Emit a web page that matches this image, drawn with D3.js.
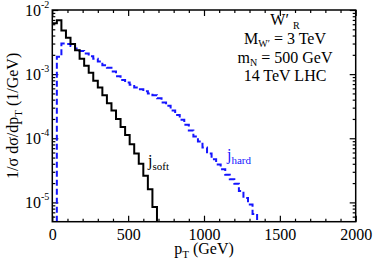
<!DOCTYPE html>
<html>
<head>
<meta charset="utf-8">
<script src="https://cdn.jsdelivr.net/npm/d3@7"></script>
<style>
  body { margin: 0; background: #fff; }
  svg { display: block; font-family: "Liberation Serif", "Times New Roman", serif; }
</style>
</head>
<body>
<div id="chart"></div>
<script>
// histogram bins, 30 GeV wide
const binWidth = 30
// j_soft, bins starting at 0 GeV
const softStart = 0
const softValues = [6.2e-3, 6.9e-3, 4.8e-3, 3.7e-3, 2.95e-3, 2.35e-3, 1.74e-3, 1.35e-3,
  1.05e-3, 7.9e-4, 6.2e-4, 4.7e-4, 3.5e-4, 2.7e-4, 2.0e-4, 1.5e-4, 1.12e-4, 8.1e-5,
  5.8e-5, 4.0e-5, 2.6e-5, 1.6e-5, 8.5e-6]
// j_hard, bins starting at 30 GeV
const hardStart = 30
const hardValues = [1.86e-3, 3.0e-3, 2.95e-3, 2.75e-3, 2.5e-3, 2.3e-3, 2.1e-3, 1.9e-3,
  1.74e-3, 1.58e-3, 1.38e-3, 1.26e-3, 1.1e-3, 9.3e-4, 8.1e-4, 7.4e-4, 6.8e-4, 6.2e-4,
  5.8e-4, 5.4e-4, 5.0e-4, 4.7e-4, 4.2e-4, 3.6e-4, 3.2e-4, 2.7e-4, 2.3e-4, 1.95e-4,
  1.62e-4, 1.32e-4, 1.07e-4, 8.9e-5, 7.2e-5, 5.8e-5, 4.7e-5, 3.9e-5, 3.3e-5, 2.7e-5,
  2.3e-5, 1.95e-5, 1.5e-5, 1.17e-5, 9.3e-6, 6.6e-6]

const xMajor = [0, 500, 1000, 1500, 2000]
const yMajor = [1e-5, 1e-4, 1e-3, 1e-2]
const yExponents = ["-5", "-4", "-3", "-2"]

const width = 374, height = 260
const margin = { top: 10, right: 18.3, bottom: 38.3, left: 52.3 }
const serif = '"Liberation Serif", "Times New Roman", serif'

const svg = d3.select("#chart").append("svg")
  .attr("width", width)
  .attr("height", height)

const x = d3.scaleLinear().domain([0, 2000]).range([margin.left, width - margin.right])
const y = d3.scaleLog().domain([5e-6, 1e-2]).range([height - margin.bottom, margin.top])
const yMin = y.domain()[0]

// minor ticks
const xMinor = d3.range(0, 2001, 100).filter(v => v % 500 !== 0)
const yMinor = []
yMajor.concat([1e-6]).forEach(d => {
  for (let k = 2; k <= 9; k++) {
    const v = d * k
    if (v > yMin && v < 1e-2) yMinor.push(v)
  }
})

const pBottom = height - margin.bottom, pTop = margin.top
const pLeft = margin.left, pRight = width - margin.right

function drawAxis(axis, tx, ty) {
  const g = svg.append("g").attr("transform", `translate(${tx},${ty})`).call(axis)
  g.attr("font-family", serif)
  g.select(".domain").remove()
  g.selectAll("line").attr("stroke", "#000").attr("stroke-width", 1.2)
  return g
}

// x ticks (inward)
const xb = drawAxis(d3.axisBottom(x).tickValues(xMajor).tickSize(-6).tickPadding(7)
  .tickFormat(d3.format("d")), 0, pBottom)
xb.attr("font-size", 16)
xb.selectAll("text").attr("fill", "#000")
drawAxis(d3.axisBottom(x).tickValues(xMinor).tickSize(-3).tickFormat(""), 0, pBottom)
drawAxis(d3.axisTop(x).tickValues(xMajor).tickSize(-6).tickFormat(""), 0, pTop)
drawAxis(d3.axisTop(x).tickValues(xMinor).tickSize(-3).tickFormat(""), 0, pTop)

// y ticks (inward)
drawAxis(d3.axisLeft(y).tickValues(yMajor).tickSize(-6).tickFormat(""), pLeft, 0)
drawAxis(d3.axisLeft(y).tickValues(yMinor).tickSize(-3).tickFormat(""), pLeft, 0)
drawAxis(d3.axisRight(y).tickValues(yMajor).tickSize(-6).tickFormat(""), pRight, 0)
drawAxis(d3.axisRight(y).tickValues(yMinor).tickSize(-3).tickFormat(""), pRight, 0)

// y labels 10^n
const yl = svg.append("g").selectAll("text")
  .data(yMajor)
  .enter()
  .append("text")
  .attr("x", pLeft - 3)
  .attr("y", d => y(d) + 6)
  .attr("text-anchor", "end")
  .attr("font-size", 16)
yl.append("tspan").text("10")
yl.append("tspan").attr("dy", -8).attr("font-size", 10).text((d, i) => yExponents[i])

// step path for a histogram
function stepPoints(start, values) {
  const pts = [[start, yMin]]
  values.forEach((v, i) => pts.push([start + i * binWidth, Math.max(v, yMin)]))
  const end = start + values.length * binWidth
  pts.push([end, Math.max(values[values.length - 1], yMin)])
  pts.push([end, yMin])
  return pts
}
const line = d3.line().x(d => x(d[0])).y(d => y(d[1])).curve(d3.curveStepAfter)

svg.append("path")
  .datum(stepPoints(hardStart, hardValues))
  .attr("d", line)
  .attr("fill", "none")
  .attr("stroke", "#1515ff")
  .attr("stroke-width", 2)
  .attr("stroke-dasharray", "6,3")

// soft starts at the axis: drop first bottom point
const softPts = stepPoints(softStart, softValues).slice(1)
svg.append("path")
  .datum(softPts)
  .attr("d", line)
  .attr("fill", "none")
  .attr("stroke", "#000")
  .attr("stroke-width", 2)

// frame
svg.append("rect")
  .attr("x", pLeft).attr("y", pTop)
  .attr("width", pRight - pLeft).attr("height", pBottom - pTop)
  .attr("fill", "none").attr("stroke", "#000").attr("stroke-width", 1.5)

// axis titles
const xt = svg.append("text")
  .attr("x", (pLeft + pRight) / 2)
  .attr("y", 254)
  .attr("text-anchor", "middle")
  .attr("font-size", 16)
xt.append("tspan").text("p")
xt.append("tspan").attr("dy", 4).attr("font-size", 11).text("T")
xt.append("tspan").attr("dy", -4).text(" (GeV)")

const yt = svg.append("text")
  .attr("transform", `translate(18,${(pTop + pBottom) / 2}) rotate(-90)`)
  .attr("text-anchor", "middle")
  .attr("font-size", 16)
yt.append("tspan").text("1/σ dσ/dp")
yt.append("tspan").attr("dy", 4).attr("font-size", 11).text("T")
yt.append("tspan").attr("dy", -4).text(" (1/GeV)")

// annotation
const cx = 285
const a1 = svg.append("text").attr("x", cx).attr("y", 25).attr("text-anchor", "middle").attr("font-size", 16)
a1.append("tspan").text("W′ ")
a1.append("tspan").attr("dy", 4).attr("font-size", 10).text("R")

const a2 = svg.append("text").attr("x", cx).attr("y", 44).attr("text-anchor", "middle").attr("font-size", 16)
a2.append("tspan").text("M")
a2.append("tspan").attr("dy", 3).attr("font-size", 10).text("W′")
a2.append("tspan").attr("dy", -3).text(" = 3 TeV")

const a3 = svg.append("text").attr("x", cx).attr("y", 63).attr("text-anchor", "middle").attr("font-size", 16)
a3.append("tspan").text("m")
a3.append("tspan").attr("dy", 3).attr("font-size", 10).text("N")
a3.append("tspan").attr("dy", -3).text(" = 500 GeV")

svg.append("text").attr("x", cx).attr("y", 81).attr("text-anchor", "middle")
  .attr("font-size", 16).text("14 TeV LHC")

// curve labels
const js = svg.append("text").attr("x", 148).attr("y", 166).attr("font-size", 16)
js.append("tspan").text("j")
js.append("tspan").attr("dy", 4).attr("font-size", 11).text("soft")

const jh = svg.append("text").attr("x", 227).attr("y", 160).attr("font-size", 16).attr("fill", "#1515ff")
jh.append("tspan").text("j")
jh.append("tspan").attr("dy", 4).attr("font-size", 11).text("hard")
</script>
</body>
</html>
